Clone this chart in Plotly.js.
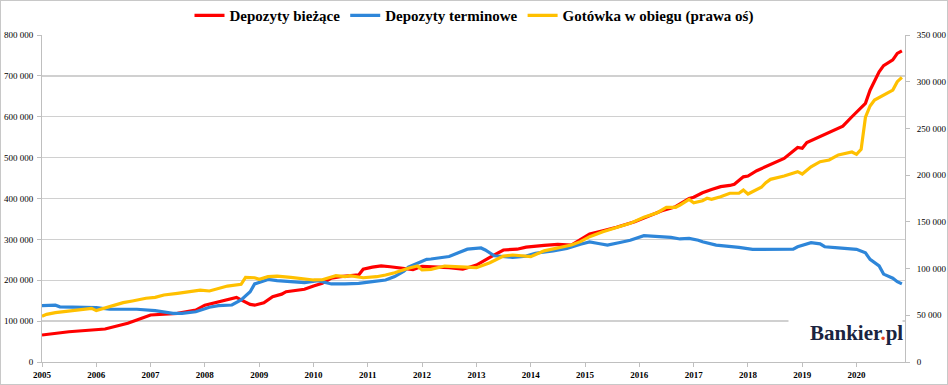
<!DOCTYPE html>
<html>
<head>
<meta charset="utf-8">
<script src="https://cdn.plot.ly/plotly-3.0.1.min.js"></script>
<style>
html,body{margin:0;padding:0;background:#fff;}
#wrap{width:948px;height:385px;box-sizing:border-box;border:1px solid #c8c8c8;}
#chart{width:946px;height:383px;}
</style>
</head>
<body>
<div id="wrap"><div id="chart"></div></div>
<script>
// Depozyty bieżące (left axis)
const redDates = ["2005-01","2005-07","2006-03","2006-06","2006-08","2006-10","2007-01","2007-07","2007-11","2008-01","2008-04","2008-07","2008-08","2008-09","2008-11","2008-12","2009-02","2009-04","2009-06","2009-07","2009-11","2010-01","2010-03","2010-05","2010-07","2010-11","2010-12","2011-02","2011-04","2011-06","2011-09","2011-11","2012-01","2012-03","2012-07","2012-10","2013-01","2013-04","2013-07","2013-10","2013-12","2014-04","2014-07","2014-10","2014-12","2015-02","2015-05","2015-08","2015-12","2016-03","2016-06","2016-09","2016-12","2017-01","2017-03","2017-05","2017-07","2017-09","2017-10","2017-12","2018-01","2018-03","2018-06","2018-09","2018-12","2019-01","2019-02","2019-04","2019-07","2019-10","2019-12","2020-01","2020-03","2020-04","2020-06","2020-07","2020-09","2020-10","2020-11"];
const redValues = [66000,74000,80700,89000,94600,102700,115000,119000,127000,139000,147500,156000,158000,152000,141000,139000,145000,160000,166000,172000,178000,186000,192500,205000,209000,213000,227000,232000,235000,233000,229000,226000,234000,233000,231000,227000,237000,256000,274000,276000,281000,285500,288000,286000,300000,313000,321000,329500,343000,355500,370000,380000,400000,403000,414000,422000,429000,432000,435000,453000,455000,468000,484000,498000,525000,523000,537000,547000,562000,577000,600000,612000,633000,665000,710000,725000,739000,755000,761000];

// Depozyty terminowe (left axis)
const blueDates = ["2005-01","2005-04","2005-05","2005-10","2006-01","2006-04","2006-10","2007-02","2007-06","2007-08","2007-11","2008-02","2008-04","2008-07","2008-09","2008-11","2008-12","2009-03","2009-05","2009-08","2009-11","2010-02","2010-05","2010-08","2010-11","2011-02","2011-05","2011-07","2011-09","2011-10","2012-02","2012-03","2012-07","2012-09","2012-11","2013-02","2013-03","2013-05","2013-09","2013-12","2014-02","2014-06","2014-09","2014-12","2015-02","2015-04","2015-06","2015-09","2015-11","2016-02","2016-05","2016-08","2016-10","2016-12","2017-02","2017-03","2017-06","2017-08","2017-11","2018-02","2018-06","2018-11","2018-12","2019-02","2019-03","2019-05","2019-06","2019-09","2020-01","2020-03","2020-04","2020-06","2020-07","2020-09","2020-10","2020-11"];
const blueValues = [138000,139000,135000,133000,133000,129000,129000,125500,119000,119000,123000,134000,138000,139500,152000,172000,191000,202000,199000,196500,194000,199000,191000,191000,192500,196500,200600,209000,222000,232000,251000,252000,258000,267000,276000,279000,274000,260000,256000,259000,266000,272000,278000,288000,293600,290000,286000,293000,298000,309000,306500,305000,301000,302600,298000,294000,286000,284000,280600,275700,275700,276000,282000,290000,292000,289000,282000,279000,275700,267000,251000,235000,215000,205000,196500,191000];

// Gotówka w obiegu (right axis)
const yellowDates = ["2005-01","2005-02","2005-04","2005-06","2005-09","2005-11","2005-12","2006-01","2006-02","2006-05","2006-07","2006-09","2006-12","2007-02","2007-04","2007-07","2007-10","2007-12","2008-02","2008-04","2008-06","2008-09","2008-10","2008-12","2009-01","2009-03","2009-05","2009-08","2009-10","2010-01","2010-03","2010-06","2010-08","2010-09","2010-12","2011-03","2011-05","2011-07","2011-10","2011-12","2012-01","2012-03","2012-06","2012-10","2013-01","2013-04","2013-07","2013-09","2013-12","2014-01","2014-04","2014-07","2014-10","2014-12","2015-02","2015-05","2015-08","2015-11","2016-02","2016-05","2016-07","2016-09","2016-10","2016-12","2017-01","2017-03","2017-04","2017-05","2017-07","2017-09","2017-11","2017-12","2018-01","2018-02","2018-04","2018-05","2018-06","2018-09","2018-12","2019-01","2019-03","2019-05","2019-07","2019-09","2019-11","2019-12","2020-01","2020-02","2020-03","2020-04","2020-05","2020-07","2020-09","2020-10","2020-11"];
const yellowValues = [49000,51000,52800,53900,55700,56400,57400,55000,56400,61000,63500,65300,68200,69200,71700,73500,75200,77000,76000,78900,81300,83100,90600,90200,88500,91300,92000,90600,89200,87800,88000,92400,91300,92400,90200,91300,93100,95600,100300,102700,98500,99200,102700,102000,101000,106300,113400,114500,113400,112700,119000,122300,125200,128800,134100,139500,144200,148400,154900,159800,165600,165600,168000,174100,170500,172600,175200,174100,176900,180600,180600,184000,179800,182300,187000,191900,195500,199000,203700,201200,209000,214400,216200,221600,224000,224800,222300,227600,262000,274000,280400,285800,291100,300000,304700];

const yearTicks = ["2005","2006","2007","2008","2009","2010","2011","2012","2013","2014","2015","2016","2017","2018","2019","2020"];
const seriesNames = ["Depozyty bieżące","Depozyty terminowe","Gotówka w obiegu (prawa oś)"];

const serif = "Liberation Serif";
const gridCol = "#d0d0d0";
const axCol = "#bfbfbf";

const traces = [
  {x: redDates, y: redValues, name: seriesNames[0], type: "scatter", mode: "lines",
   line: {color: "#ff0000", width: 3.2}, yaxis: "y"},
  {x: blueDates, y: blueValues, name: seriesNames[1], type: "scatter", mode: "lines",
   line: {color: "#2e86d9", width: 3.2}, yaxis: "y"},
  {x: yellowDates, y: yellowValues, name: seriesNames[2], type: "scatter", mode: "lines",
   line: {color: "#ffc000", width: 3.2}, yaxis: "y2"}
];

const tf = {family: serif, size: 9, color: "#000"};

const layout = {
  width: 946, height: 383,
  margin: {l: 41, r: 42, t: 34, b: 22, pad: 0},
  paper_bgcolor: "#fff", plot_bgcolor: "#fff",
  separators: ", ",
  font: {family: serif, color: "#000", size: 9},
  showlegend: true,
  legend: {orientation: "h", x: 0.5, xanchor: "center", xref: "container",
           y: 0.962, yanchor: "middle", yref: "container",
           font: {family: serif, size: 15, weight: "bold", color: "#000"},
           itemwidth: 30, tracegroupgap: 0, traceorder: "normal"},
  xaxis: {type: "date", range: ["2005-01-01", "2020-11-22"],
          tickvals: yearTicks.map(y => y + "-01-01"), ticktext: yearTicks,
          ticks: "outside", ticklen: 4, tickcolor: axCol, tickwidth: 1,
          showline: true, linecolor: axCol, linewidth: 1, showgrid: false, zeroline: false,
          tickfont: {family: serif, size: 9, weight: "bold", color: "#000"}},
  yaxis: {range: [0, 800000], dtick: 100000, tick0: 0, exponentformat: "none", separatethousands: true,
          ticks: "outside", ticklen: 4, tickcolor: axCol, ticklabelstandoff: 2,
          showline: true, linecolor: axCol, showgrid: true, gridcolor: gridCol, gridwidth: 1.3,
          zeroline: false, tickfont: tf},
  yaxis2: {range: [0, 350000], dtick: 50000, tick0: 0, overlaying: "y", side: "right",
          exponentformat: "none", separatethousands: true,
          ticks: "outside", ticklen: 4, tickcolor: axCol, ticklabelstandoff: 5,
          showline: true, linecolor: axCol, showgrid: false, zeroline: false,
          tickfont: tf},
  annotations: [
    {xref: "paper", yref: "paper", x: 1, xanchor: "right", y: 0.005, yanchor: "bottom",
     text: " ", showarrow: false, bgcolor: "#ffffff", width: 111, height: 42, xshift: -2},
    {xref: "paper", yref: "paper", x: 1, xanchor: "right", y: 0.0887, yanchor: "middle",
     text: "<b>Bankier<span style='color:#e8401c'>.</span>pl</b>",
     showarrow: false, font: {family: serif, size: 21, color: "#1b2440"}, xshift: 0}
  ]
};

Plotly.newPlot("chart", traces, layout, {displayModeBar: false, staticPlot: true});
</script>
</body>
</html>
